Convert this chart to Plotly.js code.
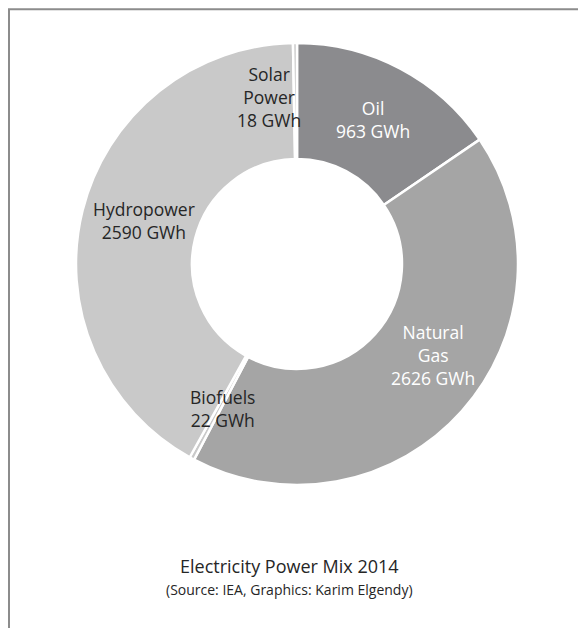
<!DOCTYPE html>
<html>
<head>
<meta charset="utf-8">
<script src="https://cdn.plot.ly/plotly-3.0.1.min.js"></script>
<style>
html, body { margin: 0; padding: 0; background: #fff; }
#chart { width: 578px; height: 628px; }
</style>
</head>
<body>
<div id="chart"></div>
<script>
// ---- data ----
const sources = ['Oil', 'Natural Gas', 'Biofuels', 'Hydropower', 'Solar Power'];
const labelNames = ['Oil', 'Natural<br>Gas', 'Biofuels', 'Hydropower', 'Solar<br>Power'];
const gwh = [963, 2626, 22, 2590, 18];
const unit = 'GWh';
const titleText = 'Electricity Power Mix 2014';
const subtitleText = '(Source: IEA, Graphics: Karim Elgendy)';

// ---- styles ----
const sliceColors = ['#8b8b8e', '#a5a5a5', '#c9c9c9', '#c9c9c9', '#c9c9c9'];
const labelColors = ['#ffffff', '#ffffff', '#262626', '#262626', '#262626'];
const labelAngleNudge = [0, -8, -1, 2, -9];   // degrees, label placement tweak
const labelRadiusNudge = [0, 0, 0, -4, 6];
const W = 578, H = 628;
const cx = 297, cy = 264, R = 221, holeFrac = 0.475;
const FONT = '"Open Sans", "DejaVu Sans", sans-serif';

const domain = {
  x: [(cx - R) / W, (cx + R) / W],
  y: [1 - (cy + R) / H, 1 - (cy - R) / H]
};

const trace = {
  type: 'pie',
  labels: sources,
  values: gwh,
  sort: false,
  direction: 'clockwise',
  rotation: 0,
  hole: holeFrac,
  textinfo: 'none',
  hoverinfo: 'skip',
  showlegend: false,
  marker: { colors: sliceColors, line: { color: '#ffffff', width: 2.5 } },
  domain: domain
};

// label positions computed from the slice mid-angles
const total = gwh.reduce((a, b) => a + b, 0);
const annotations = [];
let cum = 0;
const midR = R * (1 + holeFrac) / 2;
gwh.forEach((v, i) => {
  const mid = (cum + v / 2) / total * 360 + labelAngleNudge[i];
  cum += v;
  const a = mid * Math.PI / 180;
  const r = midR + labelRadiusNudge[i];
  const px = cx + r * Math.sin(a);
  const py = cy - r * Math.cos(a);
  annotations.push({
    x: px / W, y: 1 - py / H, xref: 'paper', yref: 'paper',
    text: labelNames[i] + '<br>' + v + ' ' + unit,
    showarrow: false, align: 'center',
    xanchor: 'center', yanchor: 'middle',
    font: { family: FONT, size: 17.5, color: labelColors[i] }
  });
});

annotations.push({
  x: 0.5, y: 1 - 566 / H, xref: 'paper', yref: 'paper',
  text: titleText, showarrow: false, xanchor: 'center', yanchor: 'middle',
  font: { family: FONT, size: 18, color: '#262626' }
});
annotations.push({
  x: 0.5, y: 1 - 589 / H, xref: 'paper', yref: 'paper',
  text: subtitleText, showarrow: false, xanchor: 'center', yanchor: 'middle',
  font: { family: FONT, size: 14, color: '#262626' }
});

const layout = {
  width: W, height: H,
  margin: { l: 0, r: 0, t: 0, b: 0 },
  paper_bgcolor: '#ffffff',
  plot_bgcolor: '#ffffff',
  annotations: annotations,
  shapes: [{
    type: 'path', xref: 'paper', yref: 'paper',
    path: 'M ' + (9 / W) + ' 0 L ' + (9 / W) + ' ' + (1 - 9.3 / H) + ' L 1 ' + (1 - 9.3 / H),
    line: { color: '#8c8c8c', width: 2 }
  }]
};

Plotly.newPlot('chart', [trace], layout, { displayModeBar: false, staticPlot: true });
</script>
</body>
</html>
